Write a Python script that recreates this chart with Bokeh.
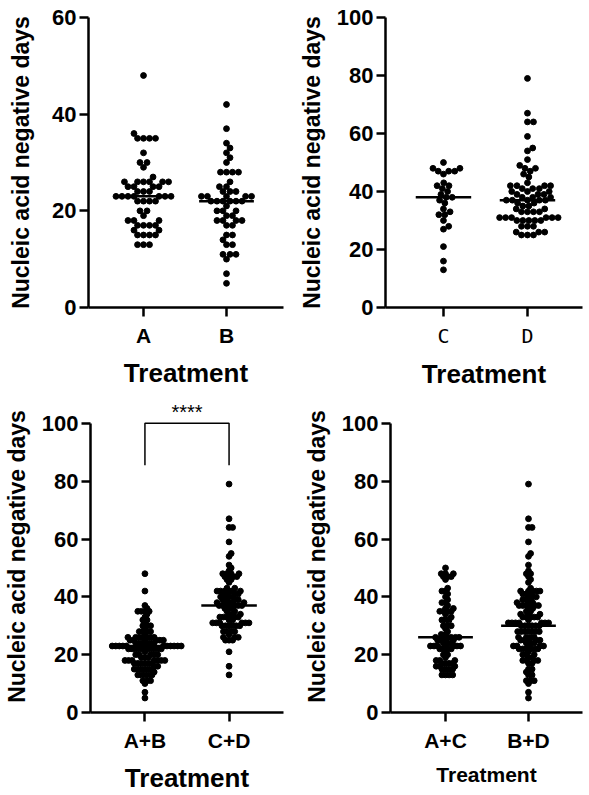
import numpy as np
from bokeh.plotting import figure
from bokeh.layouts import column, row
from bokeh.models import FixedTicker, Range1d, ColumnDataSource, Label
from bokeh.embed import file_html
from bokeh.resources import INLINE

# ---- data (days until nucleic acid negative) ----
A = [48, 36, 35, 35, 35, 35, 32, 30, 30, 29, 27, 26, 26, 26, 26, 26, 26, 25, 25, 25, 25,
     24, 24, 24, 23, 23, 23, 23, 23, 23, 23, 22, 22, 22, 22, 20, 20, 19, 18, 18, 18,
     17, 17, 17, 17, 16, 16, 15, 15, 15, 15, 13, 13, 13]
B = [42, 37, 34, 33, 32, 31, 30, 28, 28, 28, 28, 26, 25, 25, 24, 24, 24, 23, 23, 23, 23, 23,
     22, 22, 22, 22, 22, 22, 21, 20, 20, 20, 19, 19, 18, 18, 18, 18, 17, 17, 15, 15, 14,
     13, 13, 11, 11, 11, 10, 7, 5]
C = [50, 48, 48, 47, 47, 47, 46, 43, 42, 42, 41, 40, 39, 38, 38, 37, 36, 34, 33, 32, 32,
     30, 28, 27, 21, 16, 13]
D = [79, 67, 64, 64, 59, 55, 54, 51, 49, 48, 48, 47, 46, 45, 43, 42, 42, 42, 42, 41, 41, 41,
     40, 40, 40, 39, 39, 39, 38, 38, 38, 37, 37, 37, 37, 37, 36, 36, 35, 35, 34, 34, 33, 33,
     33, 33, 31, 31, 31, 31, 31, 31, 30, 30, 30, 30, 30, 28, 28, 28, 26, 26, 26, 25, 25, 25]

cats1 = ["A", "B"]
cats2 = ["C", "D"]
cats3 = ["A+B", "C+D"]
cats4 = ["A+C", "B+D"]
yticks60 = [0, 20, 40, 60]
yticks100 = [0, 20, 40, 60, 80, 100]
sig_label = "****"
bracket_low, bracket_high = 85.5, 100

FONT = "Liberation Sans"


def swarm(vals, xc, px_x, px_y, d):
    order = sorted(range(len(vals)), key=lambda i: vals[i])
    placed = []
    xs = [0.0] * len(vals)
    for i in order:
        y = vals[i] * px_y
        forb = []
        for (px, py) in placed:
            dy = abs(py - y)
            if dy < d:
                w = (d * d - dy * dy) ** 0.5
                forb.append((px - w, px + w))
        cands = [0.0] + [a for a, b in forb] + [b for a, b in forb]
        cands.sort(key=lambda c: (round(abs(c), 6), -c))
        chosen = 0.0
        for c in cands:
            if all(not (a + 1e-6 < c < b - 1e-6) for a, b in forb):
                chosen = c
                break
        placed.append((chosen, y))
        xs[i] = xc + chosen / px_x
    return xs


def panel(cats, groups, W, H, bl, br, bt, bb, xr, yr, yticks, ybounds,
          dot_d=6.0, tick_font=FONT, tick_style="bold", tick_size="21px",
          xlabel_size="26px", ylab_standoff=16, hw=0.33):
    p = figure(width=W, height=H, output_backend="svg", toolbar_location=None,
               x_range=Range1d(*xr), y_range=Range1d(*yr),
               min_border_left=bl, min_border_right=br, min_border_top=bt,
               min_border_bottom=bb)
    p.outline_line_color = None
    p.grid.visible = False
    p.background_fill_color = "white"
    p.border_fill_color = "white"
    fw = W - bl - br
    fh = H - bt - bb
    px_x = fw / (xr[1] - xr[0])
    px_y = fh / (yr[1] - yr[0])
    for k, vals in enumerate(groups):
        xc = k + 1
        xs = swarm(vals, xc, px_x, px_y, dot_d)
        src = ColumnDataSource(dict(x=xs, y=vals))
        p.scatter("x", "y", source=src, size=5.8, color="black")
        med = float(np.median(vals))
        p.segment(x0=[xc - hw], x1=[xc + hw], y0=[med], y1=[med],
                  line_color="black", line_width=2.5)
    # axes
    p.xaxis.ticker = FixedTicker(ticks=[1, 2])
    p.xaxis.major_label_overrides = {1: cats[0], 2: cats[1]}
    p.yaxis.ticker = FixedTicker(ticks=yticks)
    p.yaxis.bounds = ybounds
    for ax in (p.xaxis[0], p.yaxis[0]):
        ax.axis_line_width = 2.5
        ax.axis_line_color = "black"
        ax.major_tick_line_width = 2.5
        ax.major_tick_line_color = "black"
        ax.major_tick_in = 0
        ax.major_tick_out = 9
        ax.minor_tick_line_color = None
        ax.axis_label_text_font = FONT
        ax.axis_label_text_font_style = "bold"
        ax.axis_label_text_color = "black"
        ax.major_label_text_color = "black"
    p.yaxis.major_label_text_font = FONT
    p.yaxis.major_label_text_font_style = "bold"
    p.yaxis.major_label_text_font_size = "22px"
    p.yaxis.major_label_standoff = 3
    p.yaxis.axis_label = "Nucleic acid negative days"
    p.yaxis.axis_label_text_font_size = "23px"
    p.yaxis.axis_label_standoff = ylab_standoff
    p.xaxis.major_label_text_font = tick_font
    p.xaxis.major_label_text_font_style = tick_style
    p.xaxis.major_label_text_font_size = tick_size
    p.xaxis.major_label_standoff = 7
    p.xaxis.axis_label = "Treatment"
    p.xaxis.axis_label_text_font_size = xlabel_size
    p.xaxis.axis_label_standoff = 8
    return p


p1 = panel(cats1, [A, B], 295, 395, 88, 12, 17, 87, (0.337, 2.687), (0, 60), yticks60, (0, 60),
           ylab_standoff=15)
p2 = panel(cats2, [C, D], 292, 395, 90, 5, 15, 88, (0.31, 2.655), (0, 100), yticks100, (0, 100),
           tick_font="DejaVu Sans Mono", tick_style="normal", tick_size="20px",
           ylab_standoff=9)
p3 = panel(cats3, [A + B, C + D], 295, 400, 88, 12, 5, 82, (0.353, 2.647), (0, 107.9),
           yticks100, (0, 100), dot_d=3.6, ylab_standoff=9)
p4 = panel(cats4, [A + C, B + D], 292, 400, 95, 5, 5, 82, (0.337, 2.651), (0, 107.9),
           yticks100, (0, 100), dot_d=3.6, xlabel_size="21px", ylab_standoff=9)

# significance bracket between the two combined groups
p3.line(x=[1, 1, 2, 2], y=[bracket_low, bracket_high, bracket_high, bracket_low],
        line_color="black", line_width=1.5)
p3.add_layout(Label(x=1.5, y=103.8, text=sig_label, text_align="center",
                    text_baseline="alphabetic", text_font=FONT, text_font_size="20px",
                    text_color="black"))

layout = column(row(p1, p2, spacing=0), row(p3, p4, spacing=0), spacing=0)

with open("out.html", "w") as f:
    f.write(file_html(layout, INLINE))
